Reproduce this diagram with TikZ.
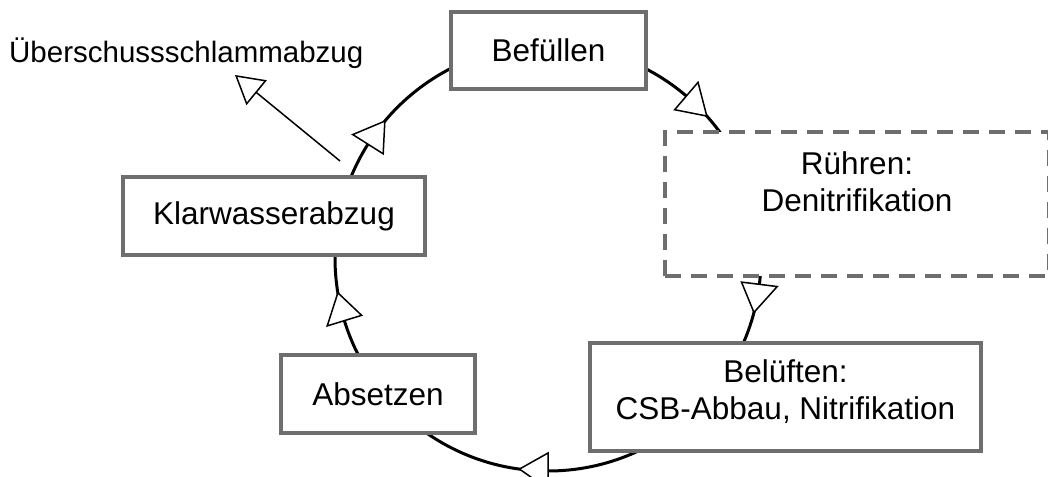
\documentclass[tikz,border=0pt]{standalone}
\usepackage{fontspec}
\setmainfont{Liberation Sans}
\usetikzlibrary{arrows.meta}
\definecolor{boxgray}{HTML}{6E6E6E}
\begin{document}
\begin{tikzpicture}[x=1pt,y=-1pt,
  stagefont/.style={font=\fontsize{31.5pt}{37pt}\selectfont},
  stage/.style={draw=boxgray, line width=3.2pt, fill=white, inner sep=0pt,
    align=center, stagefont},
  dashedstage/.style={stage, dash pattern=on 16pt off 10pt},
  cyc/.style={line width=3pt, draw=black},
  headtri/.style={draw=black, fill=white, line width=1.5pt, line join=miter},
  outflow/.style={line width=1.5pt, draw=black,
    -{Triangle[open, length=28pt, width=32pt, line width=1.5pt]}}]
\useasboundingbox (0,0) rectangle (1048,476);
% cycle
\coordinate (c) at (548,258);
\draw[cyc] (c) circle[radius=213];
\foreach \a in {-41.8,14.8,97.7,170.6,220} {
  \draw[headtri, shift={(548,258)}] (\a:213) -- (\a-7.7:231) -- (\a-7.7:195) -- cycle;
}
% stages
\node[stage, minimum width=195pt, minimum height=77pt] (bef) at (548.5,50.5) {Befüllen};
\node[dashedstage, minimum width=384pt, minimum height=144pt] (rue) at (857,204) {};
\node[stagefont, align=center, inner sep=0pt] (ruetext) at (857,182) {Rühren:\\Denitrifikation};
\node[stage, minimum width=391pt, minimum height=108pt] (bel) at (785.5,397) {};
\node[stagefont, align=center, inner sep=0pt] (beltext) at (785.5,392) {Belüften:\\CSB-Abbau, Nitrifikation};
\node[stage, minimum width=194pt, minimum height=78pt] (abs) at (378,394) {Absetzen};
\node[stage, minimum width=302pt, minimum height=78pt] (klar) at (274,216) {Klarwasserabzug};
% excess sludge
\node[anchor=base west, inner sep=0pt, font=\fontsize{29.5pt}{34pt}\selectfont] (ueb) at (9,63) {Überschussschlammabzug};
\coordinate (ustart) at (340,161);
\coordinate (uend) at (235,75);
\draw[outflow] (ustart) -- (uend);
\end{tikzpicture}
\end{document}
